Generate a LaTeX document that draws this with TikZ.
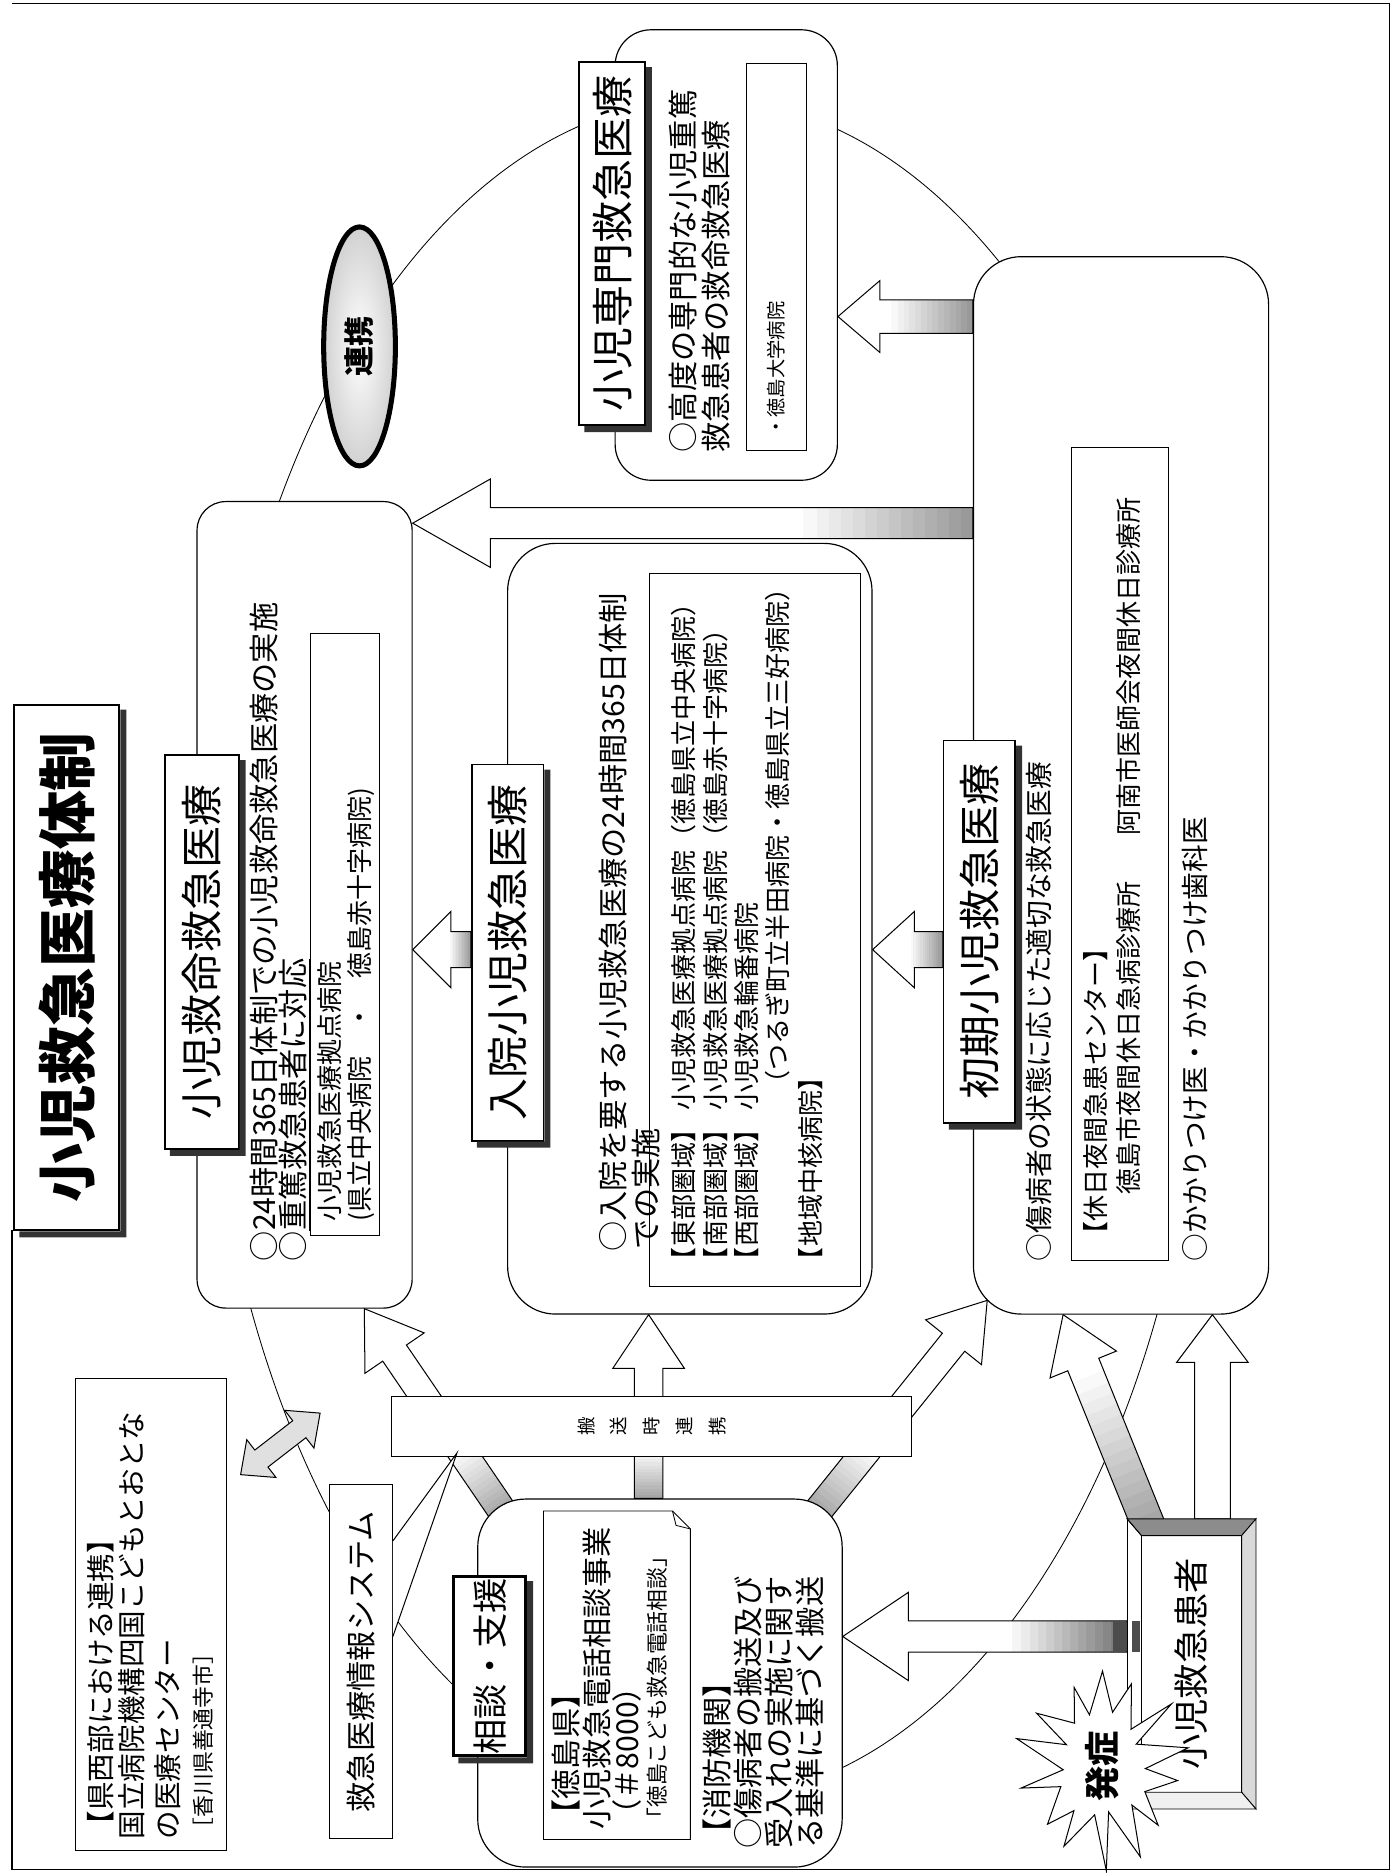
\documentclass[tikz,border=0pt]{standalone}
\usepackage{fontspec}
\setmainfont{Noto Sans CJK JP}
\usetikzlibrary{shapes.geometric, positioning, calc, backgrounds}

\newcommand\fttl{\fontsize{35pt}{40pt}\selectfont\bfseries}
\newcommand\fhdr{\fontsize{25pt}{30pt}\selectfont}
\newcommand\fpat{\fontsize{21pt}{25pt}\selectfont}
\newcommand\fbody{\fontsize{18pt}{22pt}\selectfont}
\newcommand\fken{\fontsize{17pt}{20pt}\selectfont}
\newcommand\fmid{\fontsize{16.5pt}{20pt}\selectfont}
\newcommand\fsub{\fontsize{15.5pt}{19pt}\selectfont}
\newcommand\fnote{\fontsize{13pt}{16pt}\selectfont}
\newcommand\ftiny{\fontsize{11.5pt}{14pt}\selectfont}
\newcommand\fmini{\fontsize{11pt}{19.5pt}\selectfont}

\tikzset{
  frame/.style={line width=0.8pt},
  ring/.style={line width=0.5pt},
  level/.style={rectangle, draw, fill=white, rounded corners=1cm, line width=0.7pt},
  hdr/.style={rectangle, draw, fill=white, line width=1pt, font=\fhdr, inner sep=0pt},
  inbox/.style={rectangle, draw, line width=0.5pt, inner sep=0pt},
  plain/.style={rectangle, draw, fill=white, line width=0.6pt, inner sep=0pt},
  txt/.style={anchor=west, inner sep=0pt, font=\fbody},
  subtxt/.style={txt, font=\fsub},
  barr/.style={draw, line width=0.6pt, line join=miter},
}

% dark shadow along the lower left of a header box
\newcommand\hdrshadow[1]{%
  \fill[black!80] ($(#1.north west)+(-5,-5)$) -- ($(#1.south west)+(-5,-5)$)
    -- ($(#1.south east)+(-5,-5)$) -- ($(#1.south east)+(-5,0)$)
    -- (#1.south west) -- ($(#1.north west)+(0,-5)$) -- cycle;}

% block arrow: from, to, shaft half, head half, head length, shaded part, grey
\newcommand\barrow[7]{%
  \pgfmathsetlengthmacro\bw{#3*0.025cm}%
  \pgfmathsetlengthmacro\bhw{#4*0.025cm}%
  \pgfmathsetlengthmacro\bhl{#5*0.025cm}%
  \coordinate (bh) at ($(#2)!\bhl!(#1)$);
  \fill[white] ($(#1)!\bw!90:(#2)$) -- ($(bh)!\bw!-90:(#1)$) -- ($(bh)!\bhw!-90:(#1)$)
    -- (#2) -- ($(bh)!\bhw!90:(#1)$) -- ($(bh)!\bw!90:(#1)$) -- ($(#1)!\bw!-90:(#2)$) -- cycle;
  \ifdim #6pt>0pt
    \foreach \i in {0,...,13}{%
      \pgfmathsetmacro\ta{#6*\i/14}%
      \pgfmathsetmacro\tb{#6*(\i+1.15)/14}%
      \pgfmathsetmacro\cc{#7*(1-\i/14)}%
      \coordinate (g1) at ($(#1)!\ta!(#2)$);
      \coordinate (g2) at ($(#1)!\tb!(#2)$);
      \fill[black!\cc] ($(g1)!\bw!90:(g2)$) -- ($(g2)!\bw!-90:(g1)$)
        -- ($(g2)!\bw!90:(g1)$) -- ($(g1)!\bw!-90:(g2)$) -- cycle;
    }%
  \fi
  \draw[barr] ($(#1)!\bw!90:(#2)$) -- ($(bh)!\bw!-90:(#1)$) -- ($(bh)!\bhw!-90:(#1)$)
    -- (#2) -- ($(bh)!\bhw!90:(#1)$) -- ($(bh)!\bw!90:(#1)$) -- ($(#1)!\bw!-90:(#2)$) -- cycle;
}

\begin{document}
\begin{tikzpicture}[x=0.025cm, y=0.025cm]
\begin{scope}[rotate=90, transform shape]
\path[use as bounding box] (0,0) rectangle (1568,1167);
\draw[frame] (538,1157) -- (3,1157) -- (3,4) -- (1565,4) -- (1565,1157);

% lanes for the arrows
\coordinate (ln1) at (1303,0);
\coordinate (ln2) at (1130,0);
\coordinate (ln3) at (773,0);
\coordinate (lnH) at (198,0);
\coordinate (lnB) at (0,624);
\coordinate (lnD) at (0,862);
\coordinate (lnE) at (0,277);
\coordinate (lnK) at (0,152);

% title
\node[hdr, font=\fttl, line width=1.2pt, minimum width=11cm, minimum height=2.2cm] (ttl) at (758,1111) {小児救急医療体制};
\hdrshadow{ttl}

% 救命救急
\node[level, rounded corners=0.6cm, minimum width=16.875cm, minimum height=4.5cm] (sec1) at (810.5,912) {};
\node[hdr, minimum width=8.25cm, minimum height=1.55cm] (sec1t) at (771,998) {小児救命救急医療};
\hdrshadow{sec1t}
\node[txt] (s1a) at (512,946) {○24時間365日体制での小児救命救急医療の実施};
\node[txt] (s1b) at (512,920) {○\underline{重篤救急患者に対応}};
\node[inbox, minimum width=12.6cm, minimum height=1.45cm] (sec1b) at (786,878) {};
\node[subtxt] (s1c) at (545,891) {小児救急医療拠点病院};
\node[subtxt] (s1d) at (545,865) {(県立中央病院　・　徳島赤十字病院)};

% 入院
\node[level, minimum width=16.125cm, minimum height=7.625cm] (sec2) at (790.5,589.5) {};
\node[hdr, minimum width=7.875cm, minimum height=1.5cm] (sec2t) at (770.5,742) {入院小児救急医療};
\hdrshadow{sec2t}
\node[txt] (s2a) at (520,654) {○入院を要する小児救急医療の24時間365日体制};
\node[txt] (s2b) at (522,626) {での実施};
\node[inbox, minimum width=14.925cm, minimum height=4.4cm] (sec2b) at (789.5,535) {};
\node[subtxt] (s2c) at (502,595) {【東部圏域】\ 小児救急医療拠点病院（徳島県立中央病院）};
\node[subtxt] (s2d) at (502,568) {【南部圏域】\ 小児救急医療拠点病院（徳島赤十字病院）};
\node[subtxt] (s2e) at (502,542) {【西部圏域】\ 小児救急輪番病院};
\node[subtxt] (s2f) at (650,516) {（つるぎ町立半田病院・徳島県立三好病院）};
\node[subtxt] (s2g) at (502,488) {【地域中核病院】};

% 初期
\node[level, minimum width=22.125cm, minimum height=6.175cm] (sec3) at (910.5,228.5) {};
\node[hdr, minimum width=8cm, minimum height=1.5cm] (sec3t) at (788,347) {初期小児救急医療};
\hdrshadow{sec3t}
\node[txt, font=\fmid] (s3a) at (512,297) {○傷病者の状態に応じた適切な救急医療};
\node[inbox, minimum width=17cm, minimum height=2.025cm] (sec3b) at (853,229.5) {};
\node[subtxt] (s3b) at (523,250) {【休日夜間急患センター】};
\node[subtxt] (s3c) at (568,222) {徳島市夜間休日急病診療所};
\node[subtxt] (s3d) at (868,222) {阿南市医師会夜間休日診療所};
\node[txt, font=\fmid] (s3e) at (512,167) {○かかりつけ医・かかりつけ歯科医};

% 専門
\node[level, rounded corners=0.75cm, minimum width=9.425cm, minimum height=4.65cm] (sec4) at (1354.5,559) {};
\node[hdr, minimum width=7.6cm, minimum height=1.375cm] (sec4t) at (1364,654.5) {小児専門救急医療};
\hdrshadow{sec4t}
\node[txt] (s4a) at (1189,595) {○高度の専門的な小児重篤};
\node[txt] (s4b) at (1189,568) {救急患者の救命救急医療};
\node[inbox, minimum width=8.1cm, minimum height=1.25cm] (sec4b) at (1353,517) {};
\node[txt, font=\ftiny] (s4c) at (1202,517) {・徳島大学病院};

% 連携
\node[ellipse, draw, line width=3pt, inner color=white, outer color=black!18,
      minimum width=5cm, minimum height=1.5cm, font=\fbody\bfseries] (renkei) at (1278,866) {連携};

% 搬送時連携
\node[plain, minimum width=1.25cm, minimum height=10.875cm, align=center, font=\fmini] (bar) at (374,621.5) {搬\\送\\時\\連\\携};

% 相談・支援
\node[level, minimum width=7.7cm, minimum height=7.625cm] (sodan) at (159,614.5) {};
\node[hdr, font=\fpat, line width=1.8pt, minimum width=3.75cm, minimum height=1.5cm] (sodant) at (173,757) {相談・支援};
\hdrshadow{sodant}
\draw[line width=0.5pt] (28,712) -- (303,712) -- (303,604) -- (288,589) -- (28,589) -- cycle;
\draw[line width=0.5pt] (303,604) -- (291,601) -- (288,589);
\node[txt] (n1) at (36,693) {【徳島県】};
\node[txt] (n2) at (36,667) {小児救急電話相談事業};
\node[txt] (n3) at (36,642) {（＃8000）};
\node[txt, font=\fnote] (n4) at (36,617) {「徳島こども救急電話相談」};
\node[txt] (f1) at (20,567) {【消防機関】};
\node[txt] (f2) at (20,541) {○傷病者の搬送及び};
\node[txt] (f3) at (20,515) {受入れの実施に関す};
\node[txt] (f4) at (20,489) {る基準に基づく搬送};

% 救急医療情報システム
\node[plain, minimum width=7.4cm, minimum height=1.325cm, font=\fbody] (jyoho) at (177,864.5) {救急医療情報システム};
\coordinate (jt) at ($(bar.north west)+(3,-55)$);
\draw[line width=0.6pt, fill=white] ($(jyoho.south)+(101,0.5)$) -- (jt) -- ($(jyoho.south)+(21,0.5)$);

% 県西部
\node[plain, minimum width=9.875cm, minimum height=3.175cm] (kensei) at (216.5,1040.5) {};
\node[txt, font=\fken] (k1) at (28,1083) {【県西部における連携】};
\node[txt, font=\fken] (k2) at (28,1057) {国立病院機構四国こどもとおとな};
\node[txt, font=\fken] (k3) at (28,1027) {の医療センター};
\node[txt, font=\fnote] (k4) at (28,997) {［香川県善通寺市］};
\coordinate (kw1) at ($(kensei.south east)+(-81,-11)$);
\coordinate (kw2) at (385,899);
\coordinate (kh1) at ($(kw1)!0.55cm!(kw2)$);
\coordinate (kh2) at ($(kw2)!0.55cm!(kw1)$);
\filldraw[barr, fill=black!12] (kw1) -- ($(kh1)!0.5cm!90:(kw2)$) -- ($(kh1)!0.225cm!90:(kw2)$)
  -- ($(kh2)!0.225cm!-90:(kw1)$) -- ($(kh2)!0.5cm!-90:(kw1)$) -- (kw2)
  -- ($(kh2)!0.5cm!90:(kw1)$) -- ($(kh2)!0.225cm!90:(kw1)$)
  -- ($(kh1)!0.225cm!-90:(kw2)$) -- ($(kh1)!0.5cm!-90:(kw2)$) -- cycle;

% 小児救急患者
\node[plain, minimum width=6.05cm, minimum height=2.675cm, font=\fpat] (kanja) at (175,169.5) {小児救急患者};
\coordinate (kq1) at ($(kanja.north west)+(14,-12)$);
\coordinate (kq2) at ($(kanja.south west)+(14,12)$);
\coordinate (kq3) at ($(kanja.south east)+(-14,12)$);
\coordinate (kq4) at ($(kanja.north east)+(-14,-12)$);
\filldraw[fill=black!45, line width=0.5pt] (kanja.north east) -- (kanja.south east) -- (kq3) -- (kq4) -- cycle;
\filldraw[fill=black!15, line width=0.5pt] (kanja.south west) -- (kanja.south east) -- (kq3) -- (kq2) -- cycle;
\filldraw[fill=black!6, line width=0.5pt] (kanja.north west) -- (kanja.south west) -- (kq2) -- (kq1) -- cycle;
\draw[line width=0.5pt] (kanja.north west) -- (kq1) -- (kq4) -- (kanja.north east);
\fill[black!70] ($(kanja.north -| lnH)+(-13,1)$) rectangle ($(kanja.north -| lnH)+(13,12)$);
\fill[black!70] ($(kanja.north -| lnH)+(-13,-11)$) rectangle ($(kanja.north -| lnH)+(13,-4)$);

% 発症 burst
\draw[shift={(89,244)}, fill=white, line width=0.6pt, line join=miter]
  plot[samples at={0,...,27}, variable=\k]
  ({\k*360/28+4*sin(\k*113)}:{(1-0.47*mod(\k,2))*(1+0.1*sin(\k*137))*80} and {(1-0.47*mod(\k,2))*(1+0.1*sin(\k*137))*68}) -- cycle;
\node[font=\fpat\bfseries, inner sep=0pt] (hassho) at (89,244) {発症};

% ring and arrows behind the boxes
\begin{scope}[on background layer]
\draw[ring] (773,577) ellipse [x radius=712, y radius=419];
\coordinate (a1s) at (sec3.north -| ln1); \coordinate (a1e) at (sec4.south -| ln1);
\barrow{a1s}{a1e}{14}{30}{35}{0.6}{40}
\coordinate (a2s) at (sec3.north -| ln2); \coordinate (a2e) at (sec1.south -| ln2);
\barrow{a2s}{a2e}{13}{37}{65}{0.3}{40}
\coordinate (a3s) at (sec3t.north -| ln3); \coordinate (a3e) at (sec2.south -| ln3);
\barrow{a3s}{a3e}{15}{32}{35}{0.45}{40}
\coordinate (a4s) at (sec2t.north -| ln3); \coordinate (a4e) at (sec1.south -| ln3);
\barrow{a4s}{a4e}{15}{32}{32}{0.35}{40}
\coordinate (b1s) at (sodan.east |- lnB); \coordinate (b1e) at (sec2.west |- lnB);
\barrow{b1s}{b1e}{12}{30}{45}{0.25}{35}
\coordinate (b2s) at ($(sodan.north east)+(-12,-22)$); \coordinate (b2e) at (sec1.west |- lnD);
\barrow{b2s}{b2e}{12}{30}{45}{0.3}{35}
\coordinate (b3s) at ($(sodan.south east)+(-12,22)$); \coordinate (b3e) at ($(sec3.north west)+(12,-12)$);
\barrow{b3s}{b3e}{12}{30}{45}{0.3}{35}
\coordinate (b4s) at (kanja.east |- lnK); \coordinate (b4e) at (sec3.west |- lnK);
\barrow{b4s}{b4e}{15}{30}{40}{0}{0}
\coordinate (b5s) at ($(kanja.north east)+(-6,-18)$); \coordinate (b5e) at (sec3.west |- lnE);
\barrow{b5s}{b5e}{14}{30}{45}{0.7}{35}
\coordinate (b6s) at (kanja.north -| lnH); \coordinate (b6e) at (sodan.south -| lnH);
\barrow{b6s}{b6e}{13}{37}{55}{0.4}{55}
\end{scope}
\end{scope}
\end{tikzpicture}
\end{document}
